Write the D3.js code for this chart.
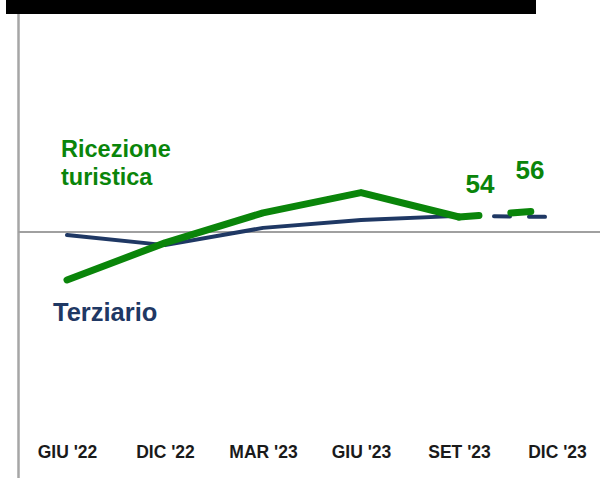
<!DOCTYPE html>
<html>
<head>
<meta charset="utf-8">
<script src="https://cdn.jsdelivr.net/npm/d3@7"></script>
<style>
  html, body { margin: 0; padding: 0; background: #fff; }
  svg { display: block; font-family: "Liberation Sans", Arial, sans-serif; }
</style>
</head>
<body>
<div id="chart"></div>
<script>
const categories = ["GIU '22", "DIC '22", "MAR '23", "GIU '23", "SET '23", "DIC '23"];
const ricezione = [37.2, 47.1, 55.1, 60.5, 54, 56];
const terziario = [49.2, 46.5, 51.1, 53.2, 54.3, 54];
const baseline = 50;
const labelledValues = [
    { idx: 4, text: "54", dx: 21, dy: -24 },
    { idx: 5, text: "56", dx: -27, dy: -31 }
];

const svgWidth = 600;
const svgHeight = 478;
const green = "#0a850a";
const navy = "#1f3864";

const svg = d3.select("#chart")
    .append("svg")
    .attr("width", svgWidth)
    .attr("height", svgHeight);

const x = d3.scalePoint()
    .domain(categories)
    .range([67, 557]);

const y = d3.scaleLinear()
    .domain([50, 60])
    .range([232, 194.5]);

// black strip across the top
svg.append("rect")
    .attr("x", 6).attr("y", 0)
    .attr("width", 530).attr("height", 14)
    .attr("fill", "#000");

// vertical axis line
svg.append("line")
    .attr("x1", 18.5).attr("x2", 18.5)
    .attr("y1", 14).attr("y2", svgHeight)
    .attr("stroke", "#a6a6a6")
    .attr("stroke-width", 2.5);

// reference line at 50
svg.append("line")
    .attr("x1", 18).attr("x2", svgWidth)
    .attr("y1", y(baseline)).attr("y2", y(baseline))
    .attr("stroke", "#a0a0a0")
    .attr("stroke-width", 2);

// category labels
const xAxis = svg.append("g")
    .attr("transform", "translate(0,458)")
    .call(d3.axisBottom(x).tickSize(0));
xAxis.select(".domain").remove();
xAxis.selectAll("text")
    .attr("y", 0)
    .attr("dy", 0)
    .style("font-size", "17.5px")
    .style("font-weight", "bold")
    .style("font-family", "'Liberation Sans', Arial, sans-serif")
    .style("fill", "#1a1a1a");

const line = d3.line()
    .x(d => x(d.cat))
    .y(d => y(d.v));

function drawSeries(values, color, width, dash) {
    const pts = categories.map((c, i) => ({ cat: c, v: values[i] }));
    svg.append("path")
        .datum(pts.slice(0, 5))
        .attr("d", line)
        .attr("fill", "none")
        .attr("stroke", color)
        .attr("stroke-width", width)
        .attr("stroke-linecap", "round")
        .attr("stroke-linejoin", "round");
    svg.append("path")
        .datum(pts.slice(4))
        .attr("d", line)
        .attr("fill", "none")
        .attr("stroke", color)
        .attr("stroke-width", width)
        .attr("stroke-linecap", "round")
        .attr("stroke-dasharray", dash);
}

drawSeries(terziario, navy, 4, "16 19");
drawSeries(ricezione, green, 7, "20 32");

// value labels
svg.selectAll(".vlabel")
    .data(labelledValues)
    .enter()
    .append("text")
    .attr("x", d => x(categories[d.idx]) + d.dx)
    .attr("y", d => y(ricezione[d.idx]) + d.dy)
    .attr("text-anchor", "middle")
    .style("font-size", "26px")
    .style("font-weight", "bold")
    .style("fill", green)
    .text(d => d.text);

// series names
const rLabel = svg.append("text")
    .style("font-size", "23.5px")
    .style("font-weight", "bold")
    .style("fill", green);
rLabel.append("tspan").attr("x", 61).attr("y", 157).text("Ricezione");
rLabel.append("tspan").attr("x", 61).attr("y", 185).text("turistica");

svg.append("text")
    .attr("x", 53)
    .attr("y", 321)
    .style("font-size", "25.5px")
    .style("font-weight", "bold")
    .style("fill", navy)
    .text("Terziario");
</script>
</body>
</html>
